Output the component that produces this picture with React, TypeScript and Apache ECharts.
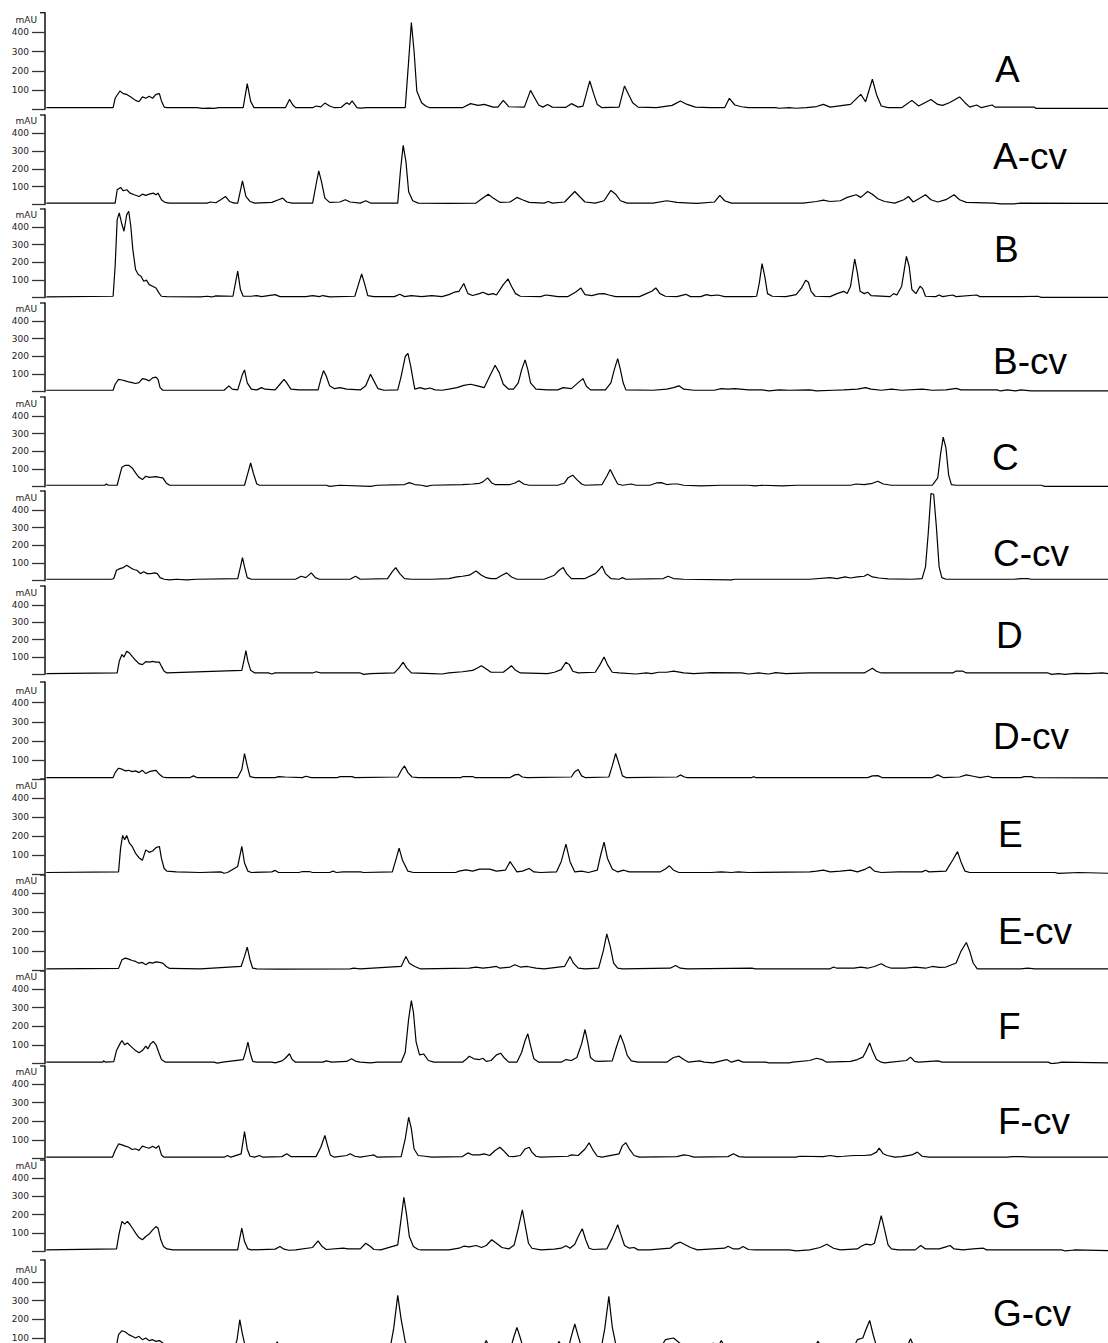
import React, { useEffect, useRef } from "react";
import * as echarts from "echarts";

// Retention axis is in arbitrary units (no labels in the original), absorbance in mAU.
const panelNames = ["A", "A-cv", "B", "B-cv", "C", "C-cv", "D", "D-cv", "E", "E-cv", "F", "F-cv", "G", "G-cv"];
const yTickValues = [0, 100, 200, 300, 400];
const yLabelValues = [100, 200, 300, 400];

const traceA = [[9,8],[107,8],[110,57],[117,95],[122,81],[127,77],[133,64],[140,46],[145,39],[150,64],[155,57],[160,67],[165,57],[170,77],[175,81],[178,43],[182,11],[186,8],[230,8],[238,4],[248,6],[255,4],[262,8],[298,8],[304,133],[309,41],[314,8],[360,8],[366,51],[371,22],[375,8],[400,8],[405,17],[412,12],[418,32],[425,17],[432,8],[442,10],[450,34],[454,25],[458,43],[465,8],[470,6],[480,8],[536,8],[541,250],[545,451],[549,300],[553,95],[560,34],[566,17],[572,8],[620,8],[632,29],[643,20],[652,25],[665,11],[672,11],[680,46],[688,13],[711,11],[720,98],[726,60],[732,22],[738,11],[745,25],[752,11],[772,10],[780,29],[790,11],[797,16],[807,147],[813,77],[818,25],[825,8],[850,11],[858,121],[864,77],[870,34],[878,11],[905,8],[928,20],[940,43],[950,25],[962,11],[985,8],[1005,8],[1012,57],[1020,22],[1030,13],[1040,8],[1080,8],[1085,5],[1100,8],[1110,5],[1125,8],[1140,14],[1150,25],[1160,11],[1190,25],[1205,77],[1212,39],[1222,156],[1228,77],[1235,17],[1245,8],[1265,8],[1280,46],[1290,17],[1308,51],[1318,25],[1325,20],[1335,34],[1350,64],[1358,34],[1365,11],[1375,22],[1382,8],[1398,22],[1402,11],[1460,11],[1462,4],[1568,4]];
const traceAcv = [[9,8],[110,8],[113,83],[118,96],[122,77],[127,83],[132,64],[138,55],[145,45],[150,58],[155,51],[160,58],[166,64],[170,55],[173,64],[178,27],[183,12],[190,8],[245,8],[250,14],[258,10],[265,27],[272,45],[278,17],[285,8],[290,8],[297,133],[302,45],[308,17],[315,8],[340,12],[350,27],[356,36],[362,14],[370,8],[400,8],[405,111],[409,189],[413,129],[418,36],[425,12],[440,14],[448,27],[455,14],[470,8],[478,21],[485,8],[525,8],[529,191],[533,332],[537,242],[541,72],[547,21],[555,8],[600,6],[640,8],[650,36],[658,58],[665,36],[675,12],[690,14],[700,40],[708,27],[718,12],[740,8],[746,17],[752,8],[770,14],[785,73],[792,45],[800,14],[815,8],[828,21],[838,79],[845,58],[852,21],[862,8],[900,8],[920,21],[935,12],[955,8],[965,6],[990,14],[998,51],[1005,21],[1015,8],[1120,8],[1140,17],[1150,25],[1160,17],[1175,21],[1185,40],[1198,55],[1205,40],[1215,73],[1222,58],[1230,32],[1240,17],[1255,8],[1268,27],[1275,45],[1282,14],[1292,36],[1300,55],[1308,27],[1318,14],[1330,27],[1342,55],[1350,27],[1360,12],[1400,8],[1410,4],[1430,4],[1440,8],[1568,6]];
const traceB = [[9,4],[107,8],[110,178],[113,442],[116,480],[120,414],[123,376],[127,470],[130,489],[133,404],[136,272],[140,159],[144,131],[148,121],[152,93],[156,99],[160,74],[165,65],[170,55],[175,23],[178,8],[185,6],[235,4],[245,8],[252,4],[258,10],[283,8],[290,150],[294,46],[298,8],[310,8],[318,12],[325,6],[345,17],[352,6],[390,6],[400,12],[410,6],[415,12],[425,4],[462,8],[468,84],[472,134],[476,84],[481,12],[490,6],[520,6],[528,19],[535,6],[545,12],[560,6],[575,12],[590,6],[600,17],[608,31],[615,36],[622,80],[628,23],[635,12],[645,23],[650,31],[658,17],[665,23],[670,15],[680,74],[687,106],[692,65],[698,23],[705,8],[735,6],[742,15],[750,12],[760,6],[775,6],[786,31],[794,55],[800,17],[810,12],[820,21],[828,23],[835,15],[845,6],[880,6],[890,23],[898,36],[904,55],[910,23],[918,8],[935,6],[948,19],[955,6],[970,6],[978,17],[985,12],[995,15],[1005,6],[1045,6],[1052,8],[1056,84],[1060,193],[1064,121],[1068,23],[1075,8],[1095,6],[1110,17],[1118,55],[1124,99],[1128,87],[1132,36],[1138,8],[1160,6],[1170,23],[1180,36],[1185,23],[1190,65],[1196,219],[1200,140],[1204,36],[1210,23],[1215,31],[1220,12],[1248,6],[1253,23],[1258,15],[1265,65],[1272,234],[1276,178],[1280,46],[1286,23],[1292,65],[1296,50],[1300,8],[1315,6],[1320,15],[1325,6],[1340,15],[1345,6],[1375,15],[1380,6],[1440,6],[1465,8],[1470,2],[1568,2]];
const traceBcv = [[9,8],[107,8],[110,42],[115,70],[120,66],[125,61],[130,55],[135,51],[140,46],[145,51],[150,74],[155,70],[160,61],[165,78],[170,82],[173,70],[176,23],[180,8],[270,8],[277,33],[282,14],[290,10],[297,99],[300,123],[304,50],[310,14],[318,10],[325,23],[330,14],[345,10],[352,42],[358,70],[362,50],[368,14],[380,10],[408,10],[412,70],[416,119],[420,89],[425,33],[432,17],[440,23],[450,14],[470,10],[478,33],[485,99],[490,61],[496,17],[505,8],[525,10],[530,87],[536,199],[540,217],[544,144],[550,14],[558,23],[565,14],[572,21],[580,10],[590,8],[600,14],[612,23],[622,36],[632,42],[642,33],[652,23],[660,87],[668,150],[674,108],[680,42],[688,14],[695,14],[702,50],[707,125],[712,180],[716,125],[720,50],[728,14],[745,10],[760,10],[768,23],[780,17],[790,51],[797,74],[802,31],[808,10],[830,10],[838,50],[843,125],[848,187],[852,125],[856,50],[860,10],[900,8],[920,14],[930,23],[938,33],[945,14],[960,8],[990,8],[1000,17],[1010,14],[1020,17],[1040,10],[1060,10],[1070,4],[1085,10],[1100,8],[1130,10],[1140,4],[1165,8],[1180,10],[1200,14],[1212,23],[1220,14],[1235,8],[1250,14],[1265,8],[1295,14],[1310,8],[1330,10],[1345,19],[1352,10],[1405,10],[1410,4],[1420,10],[1432,4],[1440,10],[1455,4],[1568,4]];
const traceC = [[9,8],[95,8],[97,15],[100,8],[113,8],[117,68],[120,110],[125,121],[130,121],[135,106],[140,78],[145,53],[150,40],[155,59],[160,53],[170,57],[175,53],[180,50],[185,21],[190,8],[300,8],[303,50],[309,134],[313,76],[318,15],[322,8],[420,8],[425,2],[440,8],[485,2],[495,8],[535,12],[542,23],[550,12],[560,8],[567,2],[575,8],[620,12],[635,15],[645,19],[650,27],[657,50],[663,21],[668,12],[690,12],[697,21],[703,34],[710,15],[718,8],[760,8],[770,21],[775,50],[782,65],[788,40],[795,15],[800,8],[825,12],[832,59],[837,97],[842,59],[848,15],[855,8],[868,15],[875,8],[895,8],[905,21],[912,23],[920,12],[928,15],[936,15],[945,8],[970,4],[1000,8],[1040,8],[1050,4],[1060,8],[1090,4],[1110,8],[1190,8],[1198,15],[1210,12],[1222,19],[1230,31],[1238,15],[1250,8],[1310,8],[1318,50],[1322,181],[1326,280],[1330,219],[1334,65],[1338,12],[1345,8],[1470,8],[1475,2],[1568,2]];
const traceCcv = [[9,8],[105,8],[108,12],[112,59],[117,68],[122,74],[127,87],[132,74],[137,63],[142,59],[147,40],[152,50],[157,40],[162,40],[168,44],[172,40],[176,17],[182,8],[190,4],[200,8],[215,4],[230,8],[290,12],[294,78],[297,131],[300,78],[304,17],[310,8],[375,8],[383,25],[390,17],[398,44],[404,17],[410,8],[455,8],[463,25],[470,8],[510,12],[517,51],[522,74],[528,40],[535,12],[545,8],[575,8],[600,12],[612,21],[620,25],[630,31],[640,55],[648,31],[655,17],[662,12],[670,12],[678,31],[685,44],[692,21],[700,8],[740,8],[755,31],[762,59],[768,74],[773,40],[780,12],[800,12],[815,40],[820,59],[825,83],[830,40],[838,12],[850,8],[855,17],[860,8],[915,12],[922,25],[930,12],[945,8],[1015,4],[1020,8],[1130,8],[1160,17],[1170,12],[1182,21],[1190,15],[1200,21],[1210,25],[1215,36],[1222,21],[1232,15],[1245,10],[1280,8],[1295,12],[1300,78],[1304,267],[1308,493],[1312,489],[1316,304],[1320,78],[1324,17],[1330,8],[1430,8],[1440,12],[1450,12],[1455,8],[1568,8]];
const traceD = [[9,4],[113,8],[116,75],[120,114],[123,100],[127,133],[131,123],[135,104],[140,81],[145,62],[150,56],[155,73],[160,70],[165,75],[170,70],[175,70],[178,46],[182,18],[186,8],[296,23],[300,95],[302,137],[305,75],[309,23],[315,8],[335,8],[340,2],[345,8],[400,8],[405,15],[412,8],[470,8],[475,0],[485,4],[520,8],[527,37],[533,70],[538,37],[545,8],[575,4],[590,2],[600,8],[620,15],[635,23],[642,37],[648,50],[655,31],[662,12],[680,12],[688,37],[692,50],[697,27],[705,8],[745,4],[755,12],[765,27],[772,70],[777,56],[782,18],[790,8],[815,12],[822,56],[828,100],[833,56],[840,12],[850,8],[875,2],[890,8],[898,4],[908,12],[920,12],[930,18],[945,8],[960,4],[985,10],[1030,8],[1040,2],[1055,8],[1070,2],[1080,10],[1095,4],[1130,8],[1210,8],[1217,23],[1222,35],[1228,18],[1235,8],[1340,8],[1345,19],[1355,18],[1360,8],[1480,8],[1485,0],[1495,4],[1505,0],[1520,6],[1540,4],[1560,8],[1568,4]];
const traceDcv = [[9,8],[107,8],[110,34],[115,57],[120,52],[125,43],[130,46],[135,39],[140,43],[145,34],[150,46],[155,29],[160,39],[165,43],[170,46],[175,25],[180,11],[185,8],[220,8],[225,17],[230,8],[290,8],[296,50],[300,134],[304,69],[308,13],[315,8],[345,8],[350,13],[360,11],[385,8],[390,15],[398,8],[437,8],[440,13],[458,13],[462,8],[525,11],[531,50],[535,69],[540,34],[546,11],[555,8],[618,8],[620,13],[636,13],[638,8],[690,8],[697,22],[702,25],[708,11],[715,8],[780,11],[785,39],[790,50],[795,17],[800,8],[835,11],[840,69],[845,134],[850,78],[855,17],[860,8],[935,11],[940,22],[946,11],[950,8],[1045,8],[1048,13],[1050,8],[1215,8],[1222,17],[1230,18],[1236,8],[1310,8],[1318,22],[1326,8],[1350,11],[1360,22],[1370,15],[1380,8],[1392,15],[1398,8],[1440,8],[1445,13],[1455,13],[1460,8],[1568,6]];
const traceE = [[9,8],[115,11],[118,136],[121,203],[124,180],[127,203],[131,162],[135,145],[140,109],[145,86],[150,72],[155,127],[160,114],[165,121],[170,139],[175,145],[178,82],[182,29],[186,15],[200,11],[235,8],[265,11],[270,4],[275,8],[290,40],[296,145],[300,58],[305,15],[310,8],[340,11],[345,19],[350,8],[380,8],[385,13],[395,13],[400,8],[425,8],[430,15],[435,8],[445,11],[470,11],[475,8],[517,11],[522,72],[527,136],[532,72],[540,15],[548,8],[610,8],[615,15],[625,22],[635,15],[645,26],[660,26],[670,15],[683,20],[690,65],[695,38],[700,11],[708,15],[718,29],[725,11],[735,8],[758,11],[765,65],[772,157],[778,65],[785,11],[795,15],[805,8],[818,20],[823,100],[828,168],[833,82],[840,26],[848,11],[857,20],[865,11],[910,11],[918,26],[924,43],[930,20],[938,8],[985,8],[1000,11],[1015,8],[1025,11],[1040,8],[1130,11],[1140,15],[1150,20],[1160,11],[1175,15],[1190,20],[1200,11],[1212,26],[1218,38],[1225,15],[1235,8],[1260,11],[1295,11],[1300,20],[1305,11],[1330,15],[1340,74],[1347,118],[1352,65],[1358,15],[1365,8],[1490,8],[1495,3],[1525,8],[1568,4]];
const traceEcv = [[9,8],[115,10],[120,55],[125,63],[130,58],[135,51],[140,46],[145,37],[150,41],[155,29],[160,41],[165,37],[170,44],[175,41],[180,37],[185,20],[190,10],[235,8],[295,20],[300,72],[304,120],[308,55],[312,11],[318,8],[350,6],[455,8],[460,11],[470,8],[530,20],[537,72],[542,37],[550,20],[558,8],[630,11],[640,17],[650,11],[660,15],[670,20],[675,11],[690,17],[697,29],[705,17],[715,20],[728,11],[740,8],[770,20],[778,72],[783,37],[790,11],[800,8],[820,11],[827,103],[832,189],[837,124],[842,37],[848,11],[855,8],[925,11],[933,25],[940,11],[950,8],[1045,11],[1050,8],[1160,8],[1165,17],[1170,11],[1195,11],[1205,17],[1215,11],[1225,20],[1235,34],[1242,20],[1250,11],[1270,11],[1285,17],[1300,11],[1310,20],[1320,15],[1330,17],[1345,38],[1352,98],[1360,144],[1365,98],[1370,38],[1376,8],[1440,8],[1450,11],[1460,8],[1568,8]];
const traceF = [[9,8],[92,8],[93,15],[96,8],[108,11],[112,70],[117,106],[120,124],[124,101],[128,111],[132,97],[136,83],[140,70],[145,58],[150,70],[155,94],[158,79],[162,106],[166,119],[170,101],[174,61],[178,22],[184,8],[255,8],[260,3],[268,8],[298,22],[302,70],[305,115],[308,61],[312,12],[318,8],[340,8],[345,4],[355,15],[360,29],[366,53],[370,22],[375,8],[415,8],[420,15],[428,8],[450,12],[457,26],[464,12],[470,8],[485,4],[495,8],[530,8],[536,61],[541,240],[545,338],[548,276],[552,115],[557,47],[563,52],[570,17],[578,8],[620,8],[625,22],[630,40],[637,26],[645,22],[650,29],[655,12],[662,17],[670,47],[676,56],[682,29],[688,8],[700,8],[707,61],[712,124],[716,160],[720,97],[725,26],[732,8],[765,8],[772,22],[780,17],[788,33],[795,106],[800,183],[804,115],[808,33],[814,15],[820,12],[840,15],[846,88],[852,154],[857,106],[862,44],[868,15],[878,8],[920,8],[930,33],[938,40],[945,22],[952,8],[968,15],[975,8],[988,4],[1000,15],[1008,22],[1015,8],[1025,19],[1032,8],[1065,8],[1070,4],[1100,4],[1105,8],[1130,17],[1140,29],[1148,22],[1155,8],[1190,12],[1200,22],[1208,35],[1212,61],[1218,111],[1222,70],[1228,22],[1235,8],[1240,4],[1250,8],[1272,17],[1278,35],[1284,12],[1290,8],[1318,15],[1325,8],[1480,8],[1485,0],[1495,4],[1500,8],[1568,4]];
const traceFcv = [[9,8],[106,8],[110,44],[115,79],[120,74],[125,67],[130,61],[135,49],[140,53],[145,44],[150,67],[155,61],[160,56],[165,67],[170,56],[174,70],[178,20],[182,8],[270,8],[275,17],[280,8],[295,26],[300,145],[304,52],[308,13],[315,8],[322,17],[327,8],[355,11],[362,26],[368,11],[405,11],[412,61],[418,124],[422,70],[426,20],[432,8],[450,17],[455,26],[462,13],[470,8],[485,17],[490,20],[495,8],[530,11],[536,106],[541,222],[545,160],[549,52],[555,17],[565,13],[575,8],[620,11],[628,31],[635,20],[645,20],[652,26],[660,17],[668,44],[675,61],[680,44],[688,13],[695,11],[705,17],[712,52],[718,61],[722,35],[728,13],[735,8],[775,13],[780,20],[790,17],[800,52],[806,85],[812,44],[818,13],[825,8],[850,26],[855,70],[860,85],[865,52],[872,17],[880,8],[935,11],[945,20],[952,17],[960,8],[1010,11],[1018,26],[1026,11],[1035,8],[1110,8],[1115,13],[1150,11],[1160,17],[1170,11],[1180,13],[1195,17],[1210,17],[1220,20],[1228,35],[1232,56],[1238,26],[1244,17],[1255,8],[1265,11],[1280,20],[1288,35],[1295,13],[1305,8],[1420,8],[1428,11],[1440,11],[1455,8],[1568,8]];
const traceG = [[9,8],[112,13],[116,99],[120,163],[124,148],[128,163],[132,145],[136,123],[140,99],[145,75],[150,63],[155,81],[160,94],[165,117],[170,135],[173,126],[177,63],[181,26],[186,13],[195,8],[290,8],[292,53],[296,126],[300,53],[305,13],[310,8],[345,12],[352,26],[358,12],[365,6],[375,8],[400,21],[408,57],[414,26],[420,10],[445,17],[452,13],[470,13],[478,44],[485,26],[490,10],[500,8],[525,35],[530,180],[534,294],[538,199],[542,81],[548,26],[555,10],[560,8],[600,8],[615,17],[622,28],[630,24],[640,32],[648,21],[655,32],[663,63],[670,44],[678,21],[688,13],[696,35],[702,126],[708,226],[712,144],[717,44],[722,17],[735,8],[755,12],[765,17],[772,30],[778,17],[785,39],[790,81],[796,123],[801,63],[806,17],[812,10],[832,13],[840,72],[848,145],[852,99],[858,32],[865,17],[872,21],[878,8],[895,8],[925,17],[932,39],[940,50],[948,35],[955,21],[965,8],[1005,17],[1010,28],[1018,13],[1026,13],[1032,26],[1040,10],[1050,8],[1100,8],[1110,2],[1130,8],[1145,21],[1155,39],[1165,17],[1175,8],[1200,13],[1205,26],[1212,39],[1220,35],[1225,44],[1230,117],[1235,195],[1240,117],[1245,35],[1250,13],[1260,8],[1285,8],[1293,32],[1300,13],[1320,13],[1330,24],[1336,32],[1342,13],[1355,8],[1370,13],[1385,17],[1390,8],[1500,8],[1505,2],[1515,6],[1520,8],[1568,4]];
const traceGcv = [[9,8],[110,8],[112,60],[115,118],[120,139],[125,132],[130,118],[135,109],[140,100],[145,109],[150,91],[155,100],[160,86],[165,91],[170,82],[175,86],[180,73],[185,40],[190,15],[200,8],[282,8],[289,90],[293,198],[297,120],[302,40],[310,10],[340,10],[348,80],[356,12],[512,10],[519,150],[525,328],[530,200],[536,80],[545,20],[555,8],[645,10],[655,86],[664,12],[688,10],[695,100],[700,157],[705,100],[712,15],[752,10],[762,82],[770,12],[773,10],[780,110],[785,175],[790,110],[798,12],[822,10],[829,150],[835,323],[840,160],[848,15],[905,10],[918,91],[930,100],[940,70],[950,12],[980,12],[988,73],[995,50],[1000,86],[1008,40],[1018,60],[1028,20],[1040,10],[1130,10],[1142,82],[1155,12],[1190,15],[1200,91],[1208,100],[1212,140],[1218,194],[1223,120],[1230,30],[1240,10],[1268,10],[1278,96],[1288,12],[1298,15],[1305,70],[1315,35],[1325,60],[1335,15],[1345,8],[1568,8]];

const traces = [traceA, traceAcv, traceB, traceBcv, traceC, traceCcv, traceD, traceDcv, traceE, traceEcv, traceF, traceFcv, traceG, traceGcv];

// Layout (pixels): axis top cap, y of the 400 tick, y of the 100 tick, for each panel
const layoutTop = [12.7, 115, 209, 303, 397, 491, 586, 682, 779, 875, 971, 1066, 1160, 1260];
const layoutY400 = [32.3, 133.3, 227, 321, 416, 510, 605, 702.7, 798, 893, 989, 1084, 1178, 1282];
const layoutY100 = [90, 186.7, 280, 374, 469, 563, 657, 760, 855, 951, 1045, 1140, 1233, 1338];
const labelLeft = [995, 993, 994, 993, 992, 993, 996, 993, 998, 998, 998, 998, 992, 993];
const labelMidY = [70, 157, 250, 362, 458, 554, 636, 737, 835, 932, 1027, 1122, 1216, 1314];

const AXIS_X = 45;
const VIEW_W = 1108;
const VIEW_H = 1343;
const CANVAS_H = 1380;

export default function App() {
  const ref = useRef<HTMLDivElement>(null);
  useEffect(() => {
    if (!ref.current) return;
    const chart = echarts.init(ref.current, undefined, { renderer: "svg" });
    const grids: any[] = [];
    const xAxes: any[] = [];
    const yAxes: any[] = [];
    const series: any[] = [];
    const graphics: any[] = [];
    panelNames.forEach((name, i) => {
      const pxPerUnit = (layoutY100[i] - layoutY400[i]) / 300;
      const y0 = layoutY100[i] + 100 * pxPerUnit;
      const top = layoutTop[i];
      const maxVal = (y0 - top) / pxPerUnit;
      grids.push({ left: AXIS_X, right: 0, top, height: y0 - top, containLabel: false });
      xAxes.push({ gridIndex: i, type: "value", min: 7, max: 1568, show: false });
      yAxes.push({
        gridIndex: i,
        type: "value",
        min: 0,
        max: maxVal,
        interval: 100,
        axisLine: { show: true, onZero: false, lineStyle: { color: "#111", width: 1.5 } },
        axisTick: { show: true, length: 13, customValues: yTickValues, lineStyle: { color: "#333", width: 1.3 } },
        axisLabel: {
          show: true,
          customValues: yLabelValues,
          fontSize: 9,
          fontFamily: "DejaVu Sans",
          color: "#222",
          margin: 16,
        },
        splitLine: { show: false },
      });
      series.push({
        type: "line",
        name,
        xAxisIndex: i,
        yAxisIndex: i,
        data: traces[i],
        showSymbol: false,
        symbol: "none",
        smooth: false,
        lineStyle: { color: "#000", width: 1.2 },
        silent: true,
      });
      graphics.push({
        type: "text",
        left: labelLeft[i],
        top: labelMidY[i] - 19,
        style: { text: name, fontSize: 37, fontFamily: "Liberation Sans, Arial, sans-serif", fill: "#000" },
      });
      graphics.push({
        type: "text",
        x: 37,
        y: layoutY400[i] - 12,
        style: { text: "mAU", fontSize: 9, fontFamily: "DejaVu Sans", fill: "#222", align: "right", verticalAlign: "middle" },
      });
      graphics.push({
        type: "line",
        shape: { x1: 40, y1: top, x2: AXIS_X, y2: top },
        style: { stroke: "#111", lineWidth: 1.3 },
      });
    });
    chart.setOption({
      animation: false,
      backgroundColor: "#fff",
      grid: grids,
      xAxis: xAxes,
      yAxis: yAxes,
      series,
      graphic: graphics,
    });
    return () => chart.dispose();
  }, []);
  return (
    <div
      style={{ position: "absolute", left: 0, top: 0, width: VIEW_W, height: VIEW_H, overflow: "hidden", background: "#fff" }}
    >
      <div ref={ref} style={{ width: VIEW_W, height: CANVAS_H }} />
    </div>
  );
}
